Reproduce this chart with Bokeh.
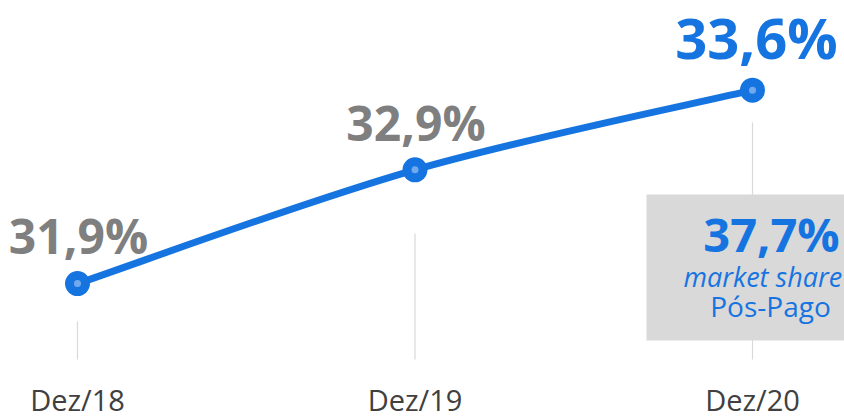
from bokeh.plotting import figure
from bokeh.models import Range1d
from bokeh.core.properties import value
from bokeh.embed import file_html
from bokeh.resources import INLINE

# ---- data ----
categories = ["Dez/18", "Dez/19", "Dez/20"]
share = [31.9, 32.9, 33.6]
share_labels = ["31,9%", "32,9%", "33,6%"]
callout_value = "37,7%"
callout_line1 = "market share"
callout_line2 = "Pós-Pago"

BLUE = "#1674E0"
LIGHT = "#72A9EE"
GRAY_TXT = "#7F7F7F"
GRID = "#D9D9D9"
FONT = "Open Sans"

W, H = 844, 418
PX_X = 337.5
PX_Y = 113.8
X0 = -77 / PX_X
Y_TOP = 31.9 + 283.1 / PX_Y


def dx(px):
    return X0 + px / PX_X


def dy(py):
    return Y_TOP - py / PX_Y


def base(py, size):
    # baseline correction for rendered text
    return dy(py - 0.4 * size)


p = figure(width=W, height=H, output_backend="svg", toolbar_location=None,
           x_range=Range1d(dx(0), dx(W)), y_range=Range1d(dy(H), dy(0)),
           min_border=0, outline_line_color=None)
p.axis.visible = False
p.grid.visible = False
p.background_fill_color = "white"
p.border_fill_color = "white"

xs = list(range(len(categories)))

# drop lines (decorative)
tops = [321, 233, 122]
p.segment(x0=xs, x1=xs, y0=[dy(t) for t in tops], y1=[dy(359)] * 3,
          line_color=GRID, line_width=1.2)

# callout box
p.quad(left=[dx(646)], right=[dx(900)], top=[dy(194)], bottom=[dy(340)],
       fill_color=GRID, line_color=None)

# smooth line via Catmull-Rom bezier
n = len(xs)
x0s, y0s, x1s, y1s, cx0, cy0, cx1, cy1 = [], [], [], [], [], [], [], []
for i in range(n - 1):
    xp, yp = (xs[i - 1], share[i - 1]) if i > 0 else (xs[i], share[i])
    xn, yn = (xs[i + 2], share[i + 2]) if i + 2 < n else (xs[i + 1], share[i + 1])
    x0s.append(xs[i]); y0s.append(share[i])
    x1s.append(xs[i + 1]); y1s.append(share[i + 1])
    cx0.append(xs[i] + (xs[i + 1] - xp) / 6); cy0.append(share[i] + (share[i + 1] - yp) / 6)
    cx1.append(xs[i + 1] - (xn - xs[i]) / 6); cy1.append(share[i + 1] - (yn - share[i]) / 6)
p.bezier(x0=x0s, y0=y0s, x1=x1s, y1=y1s, cx0=cx0, cy0=cy0, cx1=cx1, cy1=cy1,
         line_color=BLUE, line_width=7)

p.scatter(xs, share, size=16, fill_color=LIGHT, line_color=BLUE, line_width=9)

# value labels
p.text(xs[:2], share[:2], text=share_labels[:2], text_font=value(FONT),
       text_font_style="bold", text_font_size="48px", text_color=GRAY_TXT,
       text_align="center", text_baseline="alphabetic",
       x_offset=[1, 1], y_offset=[-29 - 19, -28 - 19])
p.text(xs[2:], share[2:], text=share_labels[2:], text_font=value(FONT),
       text_font_style="bold", text_font_size="56px", text_color=BLUE,
       text_align="center", text_baseline="alphabetic",
       x_offset=[4], y_offset=[-31 - 22])

# callout texts
p.text([dx(771)], [base(252, 47)], text=[callout_value], text_font=value(FONT),
       text_font_style="bold", text_font_size="47px", text_color=BLUE,
       text_align="center", text_baseline="alphabetic")
p.text([dx(683)], [base(287, 27)], text=[callout_line1], text_font=value(FONT),
       text_font_style="italic", text_font_size="27px", text_color=BLUE,
       text_align="left", text_baseline="alphabetic")
p.text([dx(770)], [base(317, 28)], text=[callout_line2], text_font=value(FONT),
       text_font_size="28px", text_color=BLUE,
       text_align="center", text_baseline="alphabetic")

# category labels
p.text(xs, [base(411, 29)] * n, text=categories, text_font=value(FONT),
       text_font_size="29px", text_color="#404040",
       text_align="center", text_baseline="alphabetic")

open("out.html", "w").write(file_html(p, INLINE))
